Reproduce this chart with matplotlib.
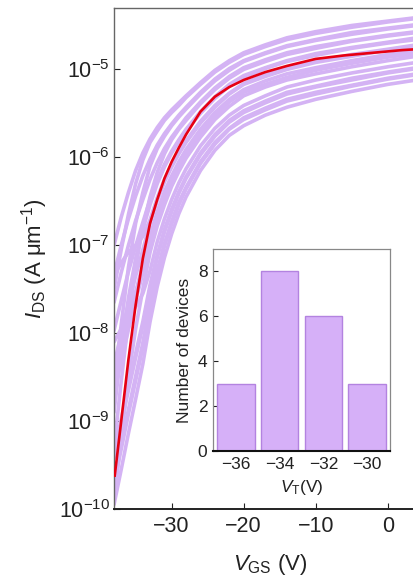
import matplotlib
matplotlib.use("Agg")
import matplotlib.pyplot as plt
import numpy as np

plt.rcParams['font.family'] = ['Liberation Sans', 'DejaVu Sans']
plt.rcParams['mathtext.fontset'] = 'custom'
plt.rcParams['mathtext.rm'] = 'Liberation Sans'
plt.rcParams['mathtext.it'] = 'Liberation Sans:italic'
plt.rcParams['mathtext.bf'] = 'Liberation Sans:bold'

# ---- data: transfer curves (log10 of I_DS in A/um) on a common V_GS grid ----
vgs = [-38, -37, -36, -35, -34, -33, -32, -31, -30, -29, -28, -26, -24, -22, -20, -17, -14, -10, -5, 0, 4]

dev01 = [-7.00, -6.68, -6.40, -6.15, -5.95, -5.79, -5.66, -5.55, -5.46, -5.38, -5.30, -5.15, -5.01, -4.90, -4.81, -4.72, -4.64, -4.57, -4.50, -4.45, -4.41]
dev02 = [-7.50, -7.05, -6.65, -6.30, -6.03, -5.83, -5.70, -5.58, -5.49, -5.41, -5.32, -5.17, -5.03, -4.92, -4.83, -4.74, -4.66, -4.59, -4.52, -4.46, -4.42]
dev03 = [-7.33, -7.00, -6.70, -6.44, -6.21, -6.02, -5.86, -5.73, -5.62, -5.52, -5.43, -5.26, -5.11, -4.99, -4.90, -4.81, -4.73, -4.66, -4.58, -4.53, -4.49]
dev04 = [-8.60, -7.90, -7.25, -6.75, -6.40, -6.10, -5.90, -5.76, -5.64, -5.54, -5.45, -5.28, -5.13, -5.01, -4.91, -4.82, -4.74, -4.67, -4.60, -4.54, -4.50]
dev05 = [-7.65, -7.31, -7.00, -6.72, -6.48, -6.25, -6.06, -5.90, -5.77, -5.66, -5.55, -5.37, -5.21, -5.08, -4.98, -4.89, -4.81, -4.74, -4.67, -4.61, -4.57]
dev06 = [-9.30, -8.55, -7.85, -7.25, -6.80, -6.45, -6.17, -5.96, -5.80, -5.68, -5.58, -5.39, -5.23, -5.10, -5.00, -4.91, -4.83, -4.76, -4.68, -4.62, -4.58]
dev07 = [-7.97, -7.63, -7.30, -7.01, -6.74, -6.48, -6.26, -6.08, -5.93, -5.80, -5.68, -5.48, -5.31, -5.17, -5.07, -4.98, -4.90, -4.82, -4.75, -4.69, -4.64]
dev08 = [-8.90, -8.20, -7.60, -7.15, -6.82, -6.54, -6.30, -6.11, -5.95, -5.82, -5.70, -5.50, -5.33, -5.19, -5.09, -4.99, -4.91, -4.84, -4.76, -4.70, -4.66]
dev09 = [-7.35, -7.20, -7.08, -7.00, -6.90, -6.71, -6.46, -6.25, -6.08, -5.93, -5.81, -5.59, -5.41, -5.27, -5.16, -5.06, -4.98, -4.91, -4.83, -4.77, -4.72]
dev10 = [-8.36, -8.00, -7.66, -7.35, -7.05, -6.75, -6.49, -6.28, -6.11, -5.96, -5.83, -5.61, -5.43, -5.28, -5.17, -5.08, -5.00, -4.92, -4.85, -4.78, -4.74]
dev11 = [-8.56, -8.20, -7.85, -7.53, -7.22, -6.89, -6.62, -6.39, -6.21, -6.05, -5.91, -5.68, -5.49, -5.34, -5.23, -5.13, -5.05, -4.98, -4.90, -4.83, -4.79]
dev12 = [-9.90, -9.20, -8.50, -7.95, -7.50, -7.08, -6.78, -6.54, -6.33, -6.16, -6.01, -5.77, -5.57, -5.42, -5.30, -5.20, -5.12, -5.05, -4.97, -4.90, -4.85]
dev13 = [-8.68, -8.32, -7.96, -7.63, -7.32, -6.98, -6.69, -6.46, -6.26, -6.10, -5.96, -5.72, -5.53, -5.37, -5.26, -5.17, -5.09, -5.01, -4.93, -4.86, -4.82]
dev14 = [-8.10, -7.95, -7.82, -7.70, -7.55, -7.29, -6.96, -6.70, -6.48, -6.29, -6.13, -5.87, -5.67, -5.52, -5.41, -5.30, -5.20, -5.12, -5.04, -4.97, -4.92]
dev15 = [-9.36, -8.98, -8.59, -8.23, -7.87, -7.45, -7.11, -6.82, -6.59, -6.39, -6.22, -5.95, -5.74, -5.58, -5.47, -5.36, -5.26, -5.19, -5.10, -5.03, -4.98]
dev16 = [-9.42, -9.03, -8.65, -8.28, -7.92, -7.50, -7.14, -6.85, -6.62, -6.41, -6.24, -5.97, -5.76, -5.60, -5.49, -5.38, -5.28, -5.20, -5.12, -5.04, -4.99]
dev17 = [-9.66, -9.26, -8.87, -8.49, -8.11, -7.66, -7.29, -6.98, -6.73, -6.51, -6.34, -6.05, -5.83, -5.67, -5.55, -5.44, -5.34, -5.26, -5.18, -5.10, -5.05]
dev18 = [-9.71, -9.32, -8.92, -8.54, -8.16, -7.70, -7.33, -7.01, -6.76, -6.54, -6.36, -6.07, -5.85, -5.68, -5.57, -5.46, -5.36, -5.28, -5.19, -5.11, -5.06]
dev19 = [-9.95, -9.55, -9.14, -8.75, -8.35, -7.87, -7.47, -7.14, -6.87, -6.64, -6.45, -6.15, -5.92, -5.75, -5.64, -5.52, -5.43, -5.34, -5.25, -5.17, -5.12]

# highlighted (typical) device
vgs_red = [-37.9, -37, -36, -35, -34, -33, -32, -31, -30, -29, -28, -26, -24, -22, -20, -17, -14, -10, -6, -2, 2, 4]
log_red = [-9.62, -9.00, -8.30, -7.68, -7.15, -6.75, -6.48, -6.24, -6.05, -5.89, -5.74, -5.48, -5.31, -5.20, -5.12, -5.03, -4.96, -4.88, -4.84, -4.81, -4.78, -4.77]

# ---- data: threshold-voltage histogram ----
vt_bins = [-36, -34, -32, -30]
vt_counts = [3, 8, 6, 3]

devices = [dev01, dev02, dev03, dev04, dev05, dev06, dev07, dev08, dev09, dev10,
           dev11, dev12, dev13, dev14, dev15, dev16, dev17, dev18, dev19]

LAV = '#d4b3f4'
BAR = '#d6b0f8'
BAR_EDGE = '#b383e0'
GRAY = '#666666'

fig = plt.figure(figsize=(4.14, 5.79), dpi=100)
ax = fig.add_axes([0.2754, 0.1209, 0.7536, 0.8653])

for d in devices:
    ax.plot(vgs, 10.0 ** np.array(d), color=LAV, lw=2.6, solid_capstyle='round',
            solid_joinstyle='round', zorder=2)
ax.plot(vgs_red, 10.0 ** np.array(log_red), color='#e60012', lw=1.9,
        solid_joinstyle='round', zorder=3)

ax.set_yscale('log')
ax.set_xlim(-38, 5.3)
ax.set_ylim(1e-10, 5e-5)
ax.set_xticks([-30, -20, -10, 0])
ax.set_yticks([1e-10, 1e-9, 1e-8, 1e-7, 1e-6, 1e-5])
ax.minorticks_off()
ax.tick_params(direction='in', length=4, width=0.8, labelsize=15.5, colors='#222222', pad=5)
ax.tick_params(axis='y', pad=3)
for s in ['left', 'top', 'right']:
    ax.spines[s].set_color(GRAY)
    ax.spines[s].set_linewidth(1.0)
ax.spines['bottom'].set_color('#222222')
ax.spines['bottom'].set_linewidth(1.4)

ax.set_xlabel(r'$V_{\rm GS}$ (V)', fontsize=16, labelpad=11, color='#222222')
ax.set_ylabel(r'$I_{\rm DS}$ (A μm$^{-1}$)', fontsize=16, labelpad=6, color='#222222')

# ---- inset histogram ----
ins = fig.add_axes([0.5145, 0.2211, 0.4275, 0.3489])
ins.set_facecolor('white')
ins.bar(vt_bins, vt_counts, width=1.7, color=BAR, edgecolor=BAR_EDGE, linewidth=1.0, zorder=2)
ins.set_xlim(-37.05, -28.95)
ins.set_ylim(0, 9)
ins.set_xticks(vt_bins)
ins.set_yticks([0, 2, 4, 6, 8])
ins.tick_params(direction='in', length=3.5, width=0.8, labelsize=12.5, colors='#222222', pad=4)
for s in ['left', 'top', 'right']:
    ins.spines[s].set_color('#888888')
    ins.spines[s].set_linewidth(0.9)
ins.spines['bottom'].set_color('#111111')
ins.spines['bottom'].set_linewidth(1.5)
ins.set_ylabel('Number of devices', fontsize=12.5, labelpad=4, color='#222222')
ins.set_xlabel(r'$V_{\rm T}$(V)', fontsize=12.5, labelpad=5, color='#222222')

fig.savefig('out.png', dpi=100)
